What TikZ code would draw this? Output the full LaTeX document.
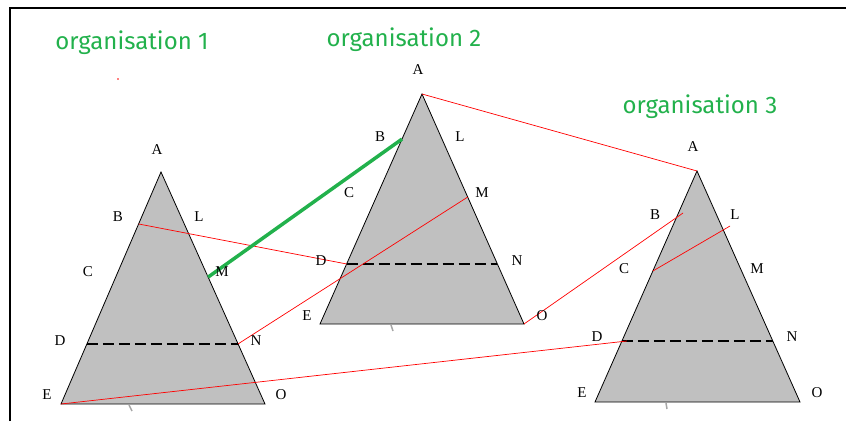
\documentclass[tikz,border=0pt]{standalone}
\usepackage{fontspec}
\setmainfont{Liberation Serif}
\newfontfamily\handfont{Fira Sans}
\usetikzlibrary{calc}
\definecolor{orggreen}{RGB}{34,177,76}
\definecolor{trigray}{RGB}{192,192,192}

\begin{document}
\begin{tikzpicture}[x=1pt, y=-1pt,
	lbl/.style={font=\fontsize{15}{17}\selectfont, inner sep=0pt},
	orgtitle/.style={font=\handfont\fontsize{24}{27}\selectfont, text=orggreen, inner sep=0pt},
	tri/.style={fill=trigray, draw=black, line width=0.8},
	level/.style={draw=black, line width=1.3, dash pattern=on 11pt off 5pt},
	link/.style={draw=red, line width=0.7},
	strong/.style={draw=orggreen, line width=3.5},
	tick/.style={draw=black!35, line width=1.5}]
	\useasboundingbox (0,0) rectangle (846,421);
	\draw[line width=2] (10,421) -- (10,8) -- (846,8);

	% organisation 1
	\coordinate (A1) at (161,172);
	\coordinate (E1) at (61,404);
	\coordinate (O1) at (265,404);
	\filldraw[tri] (A1) -- (E1) -- (O1) -- cycle;
	\coordinate (B1) at ($(A1)!0.224!(E1)$);
	\coordinate (M1) at ($(A1)!0.453!(O1)$);
	\coordinate (D1) at ($(A1)!0.741!(E1)$);
	\coordinate (N1) at ($(A1)!0.741!(O1)$);
	\draw[level] (D1) -- (N1);
	\draw[tick] (129,405) -- (132,411);

	% organisation 2
	\coordinate (A2) at (422,94);
	\coordinate (E2) at (320,324);
	\coordinate (O2) at (524,324);
	\filldraw[tri] (A2) -- (E2) -- (O2) -- cycle;
	\coordinate (B2) at ($(A2)!0.196!(E2)$);
	\coordinate (M2) at ($(A2)!0.448!(O2)$);
	\coordinate (D2) at ($(A2)!0.739!(E2)$);
	\coordinate (N2) at ($(A2)!0.739!(O2)$);
	\draw[level] (D2) -- (N2);
	\draw[tick] (391,325) -- (393,331);

	% organisation 3
	\coordinate (A3) at (697,171);
	\coordinate (E3) at (595,402);
	\coordinate (O3) at (800,402);
	\filldraw[tri] (A3) -- (E3) -- (O3) -- cycle;
	\coordinate (B3) at (683,213);
	\coordinate (L3) at (730,226);
	\coordinate (C3) at ($(A3)!0.433!(E3)$);
	\coordinate (D3) at ($(A3)!0.736!(E3)$);
	\coordinate (N3) at ($(A3)!0.736!(O3)$);
	\draw[level] (D3) -- (N3);
	\draw[tick] (666,403) -- (667,409);

	% links between the organisations
	\draw[link] (B1) -- (D2);
	\draw[link] (N1) -- (M2);
	\draw[link] (E1) -- ($(D3)+(5,0)$);
	\draw[link] (A2) -- (A3);
	\draw[link] (O2) -- (B3);
	\draw[link] (C3) -- (L3);
	\draw[strong] (M1) -- (B2);
	\fill[red] (118,79) circle (0.8);

	% titles
	\node[orgtitle] (t1) at (132,43) {organisation 1};
	\node[orgtitle] (t2) at (404,40) {organisation 2};
	\node[orgtitle] (t3) at (700,107) {organisation 3};

	% letters
	\node[lbl] (a1) at (157,150) {A};
	\node[lbl] (b1) at (118,217) {B};
	\node[lbl] (l1) at (199,217) {L};
	\node[lbl] (c1) at (88,272) {C};
	\node[lbl] (m1) at (222,272) {M};
	\node[lbl] (d1) at (60,341) {D};
	\node[lbl] (n1) at (256,341) {N};
	\node[lbl] (e1) at (47,395) {E};
	\node[lbl] (o1) at (281,395) {O};

	\node[lbl] (a2) at (418,70) {A};
	\node[lbl] (b2) at (380,137) {B};
	\node[lbl] (l2) at (460,137) {L};
	\node[lbl] (c2) at (349,193) {C};
	\node[lbl] (m2) at (482,193) {M};
	\node[lbl] (d2) at (321,261) {D};
	\node[lbl] (n2) at (517,261) {N};
	\node[lbl] (e2) at (307,316) {E};
	\node[lbl] (o2) at (542,316) {O};

	\node[lbl] (a3) at (693,147) {A};
	\node[lbl] (b3) at (655,215) {B};
	\node[lbl] (l3) at (735,215) {L};
	\node[lbl] (c3) at (624,269) {C};
	\node[lbl] (m3) at (757,269) {M};
	\node[lbl] (d3) at (597,337) {D};
	\node[lbl] (n3) at (792,337) {N};
	\node[lbl] (e3) at (582,393) {E};
	\node[lbl] (o3) at (817,393) {O};
\end{tikzpicture}
\end{document}
